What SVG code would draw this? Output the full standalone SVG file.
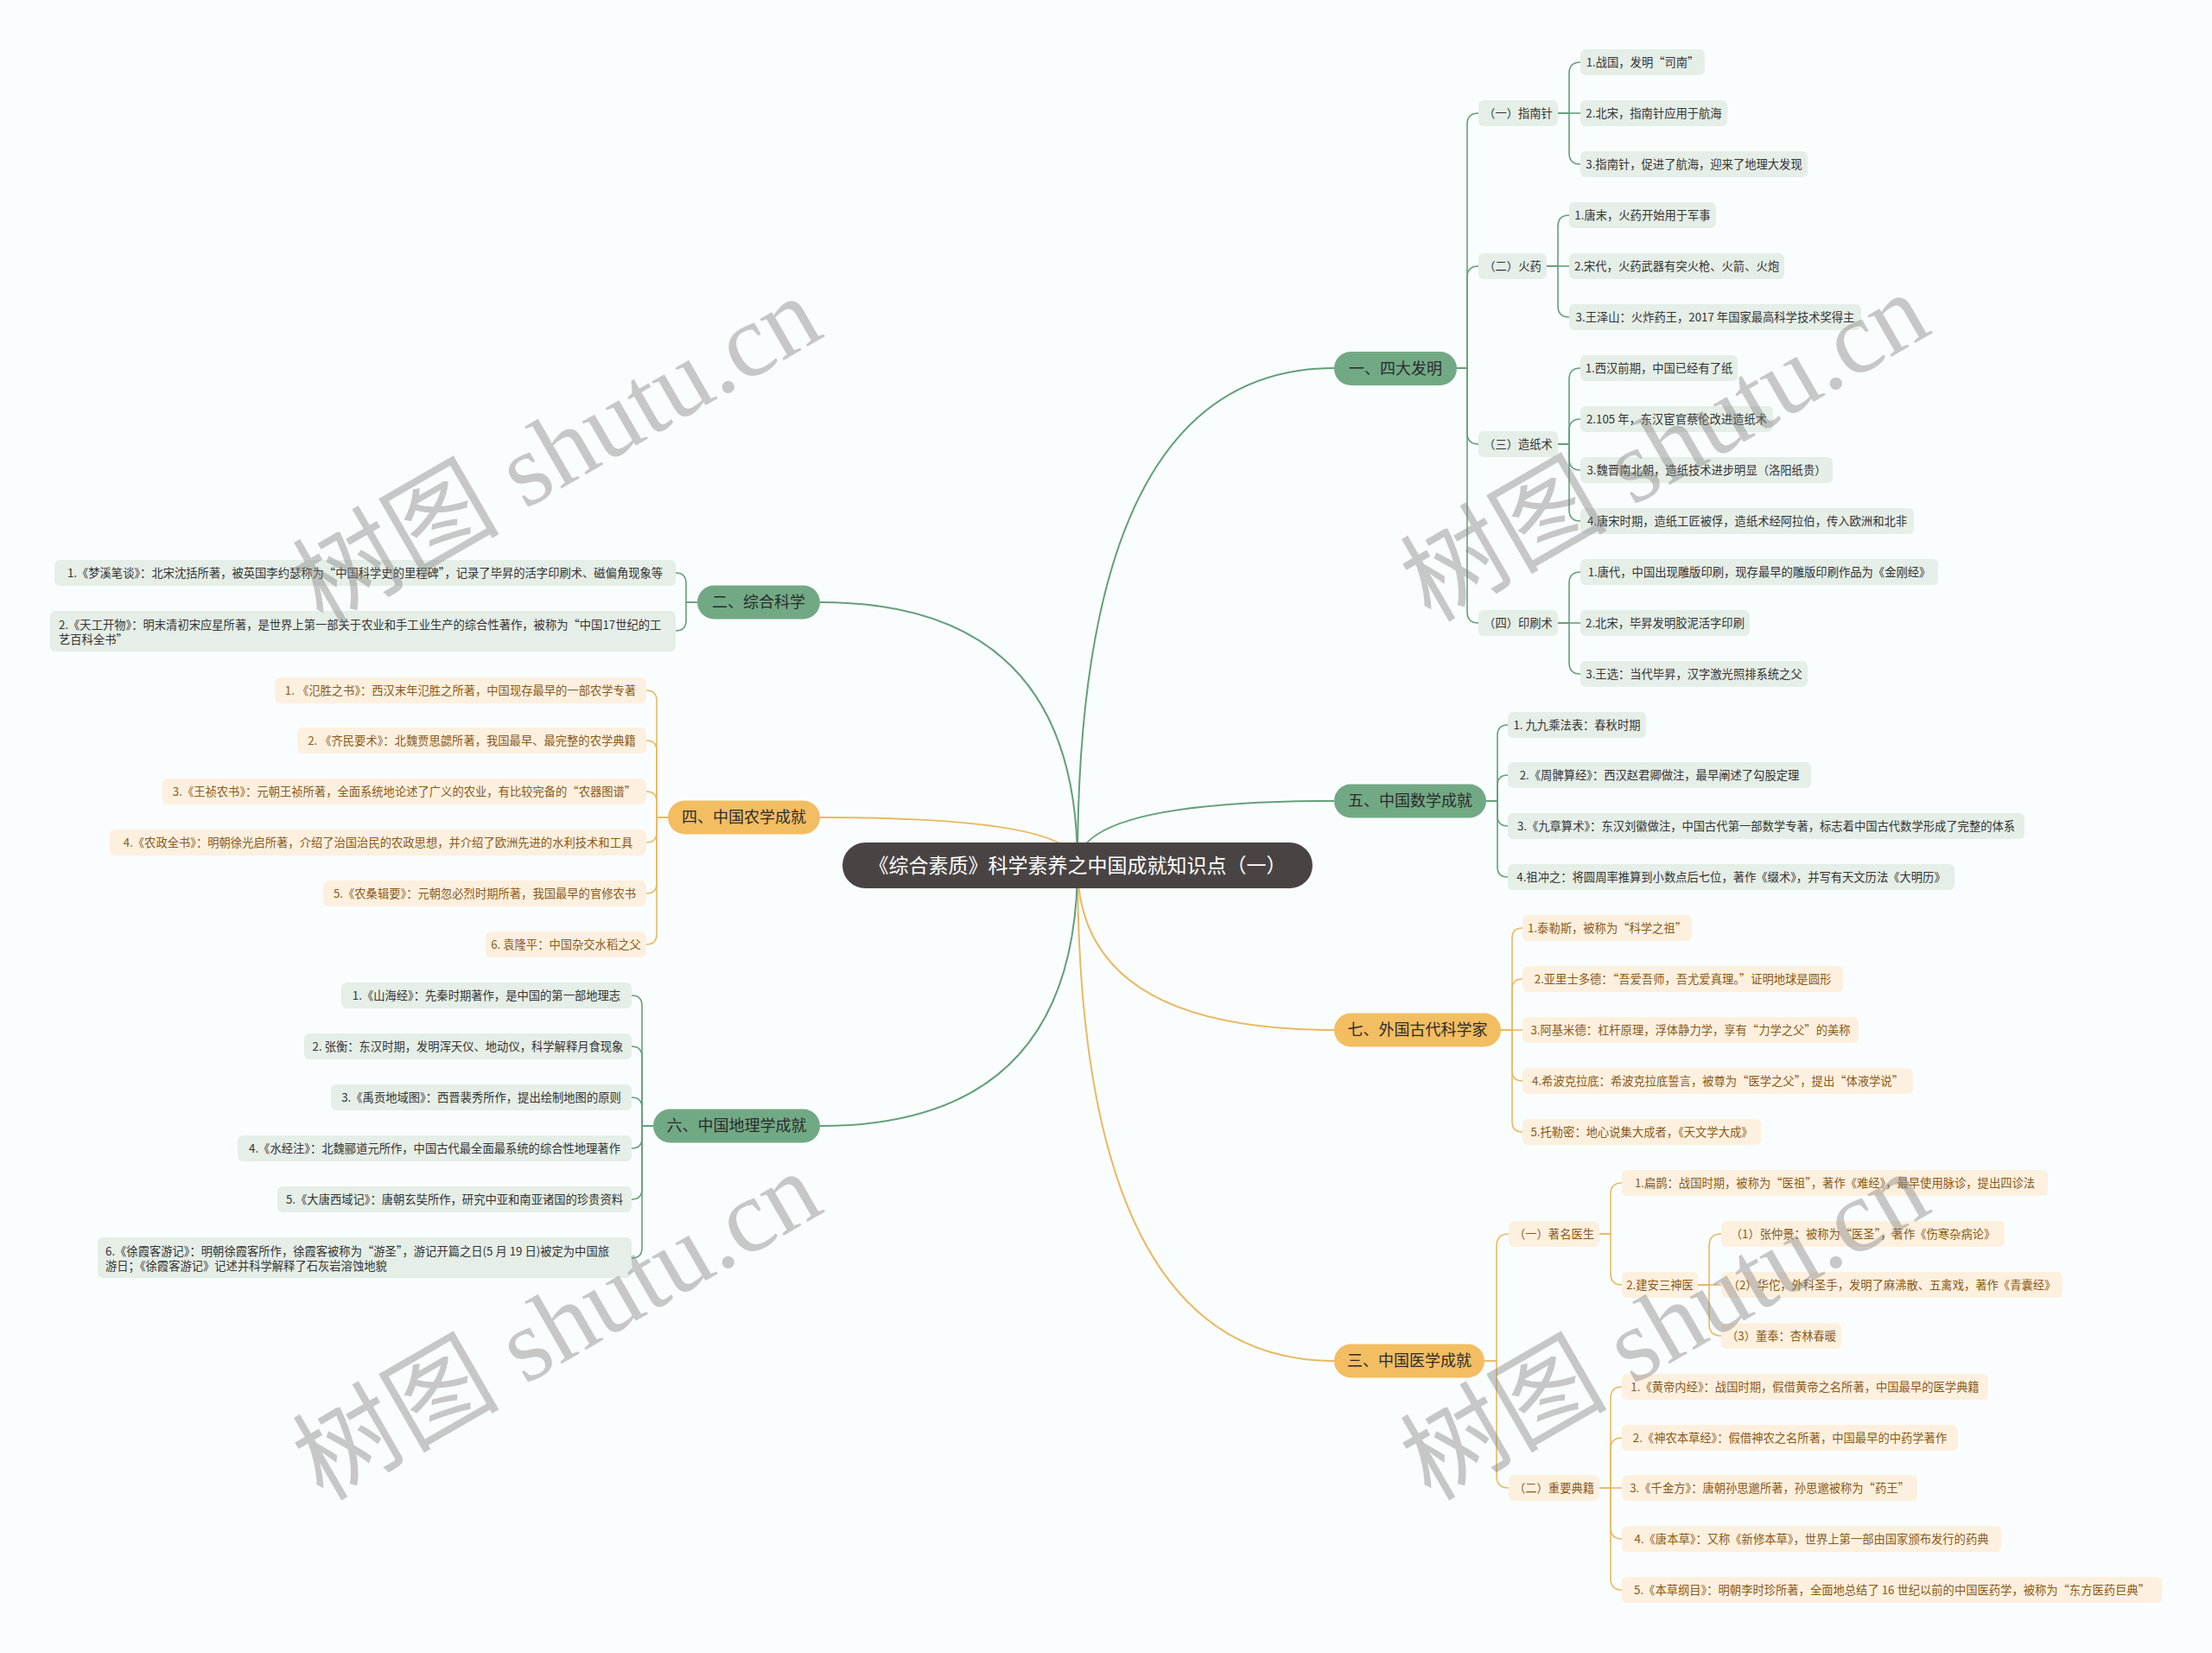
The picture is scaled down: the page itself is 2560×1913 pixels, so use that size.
<svg xmlns="http://www.w3.org/2000/svg" width="2560" height="1913" viewBox="0 0 2560 1913">
<style>
text{font-family:"Noto Sans CJK SC","Liberation Sans",sans-serif}
.bg{fill:#fafdfd}
.cg{fill:none;stroke:#64a07a;stroke-width:2}
.co{fill:none;stroke:#ebb862;stroke-width:2}
.lg{fill:#e5eee7}
.lo{fill:#fdf0df}
.t{font-size:13.3px;text-anchor:middle}
.ts{font-size:13.3px;text-anchor:start}
.tg{fill:#333333}
.to{fill:#8a5a17}
.mg{fill:#72a985}
.mo{fill:#f3bd62}
.mt{font-size:18px;text-anchor:middle;fill:#2b2b2b}
.root{fill:#494443}
.rt{font-size:23px;text-anchor:middle;fill:#ffffff}
.wm{font-family:"Liberation Serif","Noto Sans CJK SC",serif;font-size:120px;fill:#808080;opacity:0.42}
</style>
<rect class="bg" x="0" y="0" width="2560" height="1913"/>
<g id="connectors">
<path class="cg" d="M1247 1001 Q1247 426 1544 426"/>
<path class="cg" d="M1247 1001 Q1247 927 1544 927"/>
<path class="co" d="M1247 1001 Q1247 1192 1544 1192"/>
<path class="co" d="M1247 1001 Q1247 1575 1544 1575"/>
<path class="cg" d="M1247 1001 Q1247 697 949 697"/>
<path class="co" d="M1247 1001 Q1247 946 949 946"/>
<path class="cg" d="M1247 1001 Q1247 1303 949 1303"/>
<g class="cg" style="stroke-width:1.6">
<path d="M1686 426 H1698 V144 Q1698 131 1711 131"/>
<path d="M1686 426 H1698 V321 Q1698 308 1711 308"/>
<path d="M1686 426 H1698 V501 Q1698 514 1711 514"/>
<path d="M1686 426 H1698 V708 Q1698 721 1711 721"/>
<path d="M1803 131 H1816 V85 Q1816 72 1829 72"/>
<path d="M1803 131 H1829"/>
<path d="M1803 131 H1816 V177 Q1816 190 1829 190"/>
<path d="M1790 308 H1803 V262 Q1803 249 1816 249"/>
<path d="M1790 308 H1816"/>
<path d="M1790 308 H1803 V354 Q1803 367 1816 367"/>
<path d="M1803 514 H1816 V439 Q1816 426 1829 426"/>
<path d="M1803 514 H1816 V498 Q1816 485 1829 485"/>
<path d="M1803 514 H1816 V531 Q1816 544 1829 544"/>
<path d="M1803 514 H1816 V590 Q1816 603 1829 603"/>
<path d="M1803 721 H1816 V675 Q1816 662 1829 662"/>
<path d="M1803 721 H1829"/>
<path d="M1803 721 H1816 V767 Q1816 780 1829 780"/>
<path d="M1720 927 H1733 V851 Q1733 839 1745 839"/>
<path d="M1720 927 H1733 V909 Q1733 897 1745 897"/>
<path d="M1720 927 H1733 V944 Q1733 956 1745 956"/>
<path d="M1720 927 H1733 V1003 Q1733 1015 1745 1015"/>
<path d="M807 697 H794 V675 Q794 663 782 663"/>
<path d="M807 697 H794 V718 Q794 730 782 730"/>
<path d="M756 1303 H743 V1164 Q743 1152 731 1152"/>
<path d="M756 1303 H743 V1223 Q743 1211 731 1211"/>
<path d="M756 1303 H743 V1282 Q743 1270 731 1270"/>
<path d="M756 1303 H743 V1317 Q743 1329 731 1329"/>
<path d="M756 1303 H743 V1376 Q743 1388 731 1388"/>
<path d="M756 1303 H743 V1444 Q743 1456 731 1456"/>
</g>
<g class="co" style="stroke-width:1.6">
<path d="M1737 1192 H1750 V1086 Q1750 1074 1762 1074"/>
<path d="M1737 1192 H1750 V1145 Q1750 1133 1762 1133"/>
<path d="M1737 1192 H1762"/>
<path d="M1737 1192 H1750 V1239 Q1750 1251 1762 1251"/>
<path d="M1737 1192 H1750 V1298 Q1750 1310 1762 1310"/>
<path d="M1718 1575 H1732 V1442 Q1732 1428 1746 1428"/>
<path d="M1718 1575 H1732 V1708 Q1732 1722 1746 1722"/>
<path d="M1851 1428 H1864 V1382 Q1864 1369 1877 1369"/>
<path d="M1851 1428 H1864 V1474 Q1864 1487 1877 1487"/>
<path d="M1965 1487 H1978 V1442 Q1978 1428 1992 1428"/>
<path d="M1965 1487 H1992"/>
<path d="M1965 1487 H1978 V1532 Q1978 1546 1992 1546"/>
<path d="M1851 1722 H1864 V1618 Q1864 1605 1877 1605"/>
<path d="M1851 1722 H1864 V1677 Q1864 1664 1877 1664"/>
<path d="M1851 1722 H1877"/>
<path d="M1851 1722 H1864 V1768 Q1864 1781 1877 1781"/>
<path d="M1851 1722 H1864 V1827 Q1864 1840 1877 1840"/>
<path d="M773 946 H760 V811 Q760 799 748 799"/>
<path d="M773 946 H760 V869 Q760 857 748 857"/>
<path d="M773 946 H760 V928 Q760 916 748 916"/>
<path d="M773 946 H760 V963 Q760 975 748 975"/>
<path d="M773 946 H760 V1022 Q760 1034 748 1034"/>
<path d="M773 946 H760 V1081 Q760 1093 748 1093"/>
</g>
</g>

<g id="root">
<rect class="root" x="975" y="975" width="544" height="53" rx="26.5"/>
<text class="rt" x="1247" y="1009.5">《综合素质》科学素养之中国成就知识点（一）</text>
</g>

<g id="m1">
<rect class="mg" x="1544" y="407" width="142" height="39" rx="19.5"/>
<text class="mt" x="1615" y="432.5">一、四大发明</text>
</g>
<g id="m1a"><rect class="lg" x="1711" y="116" width="92" height="30" rx="6"/><text class="t tg" x="1757" y="135.7">（一）指南针</text></g>
<g id="m1a1"><rect class="lg" x="1829" y="57" width="144" height="30" rx="6"/><text class="t tg" x="1901" y="76.7">1.战国，发明“司南”</text></g>
<g id="m1a2"><rect class="lg" x="1829" y="116" width="170" height="30" rx="6"/><text class="t tg" x="1914" y="135.7">2.北宋，指南针应用于航海</text></g>
<g id="m1a3"><rect class="lg" x="1829" y="175" width="263" height="30" rx="6"/><text class="t tg" x="1960.5" y="194.7">3.指南针，促进了航海，迎来了地理大发现</text></g>
<g id="m1b"><rect class="lg" x="1711" y="293" width="79" height="30" rx="6"/><text class="t tg" x="1750.5" y="312.7">（二）火药</text></g>
<g id="m1b1"><rect class="lg" x="1816" y="234" width="170" height="30" rx="6"/><text class="t tg" x="1901" y="253.7">1.唐末，火药开始用于军事</text></g>
<g id="m1b2"><rect class="lg" x="1816" y="293" width="249" height="30" rx="6"/><text class="t tg" x="1940.5" y="312.7">2.宋代，火药武器有突火枪、火箭、火炮</text></g>
<g id="m1b3"><rect class="lg" x="1816" y="352" width="338" height="30" rx="6"/><text class="t tg" x="1985" y="371.7">3.王泽山：火炸药王，2017 年国家最高科学技术奖得主</text></g>
<g id="m1c"><rect class="lg" x="1711" y="499" width="92" height="30" rx="6"/><text class="t tg" x="1757" y="518.7">（三）造纸术</text></g>
<g id="m1c1"><rect class="lg" x="1829" y="411" width="182" height="30" rx="6"/><text class="t tg" x="1920" y="430.7">1.西汉前期，中国已经有了纸</text></g>
<g id="m1c2"><rect class="lg" x="1829" y="470" width="223" height="30" rx="6"/><text class="t tg" x="1940.5" y="489.7">2.105 年，东汉宦官蔡伦改进造纸术</text></g>
<g id="m1c3"><rect class="lg" x="1829" y="529" width="292" height="30" rx="6"/><text class="t tg" x="1975" y="548.7">3.魏晋南北朝，造纸技术进步明显（洛阳纸贵）</text></g>
<g id="m1c4"><rect class="lg" x="1829" y="588" width="386" height="30" rx="6"/><text class="t tg" x="2022" y="607.7">4.唐宋时期，造纸工匠被俘，造纸术经阿拉伯，传入欧洲和北非</text></g>
<g id="m1d"><rect class="lg" x="1711" y="706" width="92" height="30" rx="6"/><text class="t tg" x="1757" y="725.7">（四）印刷术</text></g>
<g id="m1d1"><rect class="lg" x="1829" y="647" width="414" height="30" rx="6"/><text class="t tg" x="2036" y="666.7">1.唐代，中国出现雕版印刷，现存最早的雕版印刷作品为《金刚经》</text></g>
<g id="m1d2"><rect class="lg" x="1829" y="706" width="196" height="30" rx="6"/><text class="t tg" x="1927" y="725.7">2.北宋，毕昇发明胶泥活字印刷</text></g>
<g id="m1d3"><rect class="lg" x="1829" y="765" width="263" height="30" rx="6"/><text class="t tg" x="1960.5" y="784.7">3.王选：当代毕昇，汉字激光照排系统之父</text></g>

<g id="m5">
<rect class="mg" x="1544" y="907.5" width="176" height="39" rx="19.5"/>
<text class="mt" x="1632" y="933">五、中国数学成就</text>
</g>
<g id="m5a"><rect class="lg" x="1745" y="824" width="160" height="30" rx="6"/><text class="t tg" x="1825" y="843.7">1. 九九乘法表：春秋时期</text></g>
<g id="m5b"><rect class="lg" x="1745" y="882" width="351" height="30" rx="6"/><text class="t tg" x="1920.5" y="901.7">2.《周髀算经》：西汉赵君卿做注，最早阐述了勾股定理</text></g>
<g id="m5c"><rect class="lg" x="1745" y="941" width="598" height="30" rx="6"/><text class="t tg" x="2044" y="960.7">3.《九章算术》：东汉刘徽做注，中国古代第一部数学专著，标志着中国古代数学形成了完整的体系</text></g>
<g id="m5d"><rect class="lg" x="1745" y="1000" width="517" height="30" rx="6"/><text class="t tg" x="2003.5" y="1019.7">4.祖冲之：将圆周率推算到小数点后七位，著作《缀术》，并写有天文历法《大明历》</text></g>

<g id="m7">
<rect class="mo" x="1544" y="1172.5" width="193" height="39" rx="19.5"/>
<text class="mt" x="1640.5" y="1198">七、外国古代科学家</text>
</g>
<g id="m7a"><rect class="lo" x="1762" y="1059" width="196" height="30" rx="6"/><text class="t to" x="1860" y="1078.7">1.泰勒斯，被称为“科学之祖”</text></g>
<g id="m7b"><rect class="lo" x="1762" y="1118" width="371" height="30" rx="6"/><text class="t to" x="1947.5" y="1137.7">2.亚里士多德：“吾爱吾师，吾尤爱真理。”证明地球是圆形</text></g>
<g id="m7c"><rect class="lo" x="1762" y="1177" width="389" height="30" rx="6"/><text class="t to" x="1956.5" y="1196.7">3.阿基米德：杠杆原理，浮体静力学，享有“力学之父”的美称</text></g>
<g id="m7d"><rect class="lo" x="1762" y="1236" width="452" height="30" rx="6"/><text class="t to" x="1988" y="1255.7">4.希波克拉底：希波克拉底誓言，被尊为“医学之父”，提出“体液学说”</text></g>
<g id="m7e"><rect class="lo" x="1762" y="1295" width="276" height="30" rx="6"/><text class="t to" x="1900" y="1314.7">5.托勒密：地心说集大成者，《天文学大成》</text></g>

<g id="m3">
<rect class="mo" x="1544" y="1555.5" width="174" height="39" rx="19.5"/>
<text class="mt" x="1631" y="1581">三、中国医学成就</text>
</g>
<g id="m3a"><rect class="lo" x="1746" y="1413" width="105" height="30" rx="6"/><text class="t to" x="1798.5" y="1432.7">（一）著名医生</text></g>
<g id="m3a1"><rect class="lo" x="1877" y="1354" width="493" height="30" rx="6"/><text class="t to" x="2123.5" y="1373.7">1.扁鹊：战国时期，被称为“医祖”，著作《难经》，最早使用脉诊，提出四诊法</text></g>
<g id="m3a2"><rect class="lo" x="1877" y="1472" width="88" height="30" rx="6"/><text class="t to" x="1921" y="1491.7">2.建安三神医</text></g>
<g id="m3a2a"><rect class="lo" x="1992" y="1413" width="328" height="30" rx="6"/><text class="t to" x="2156" y="1432.7">（1）张仲景：被称为“医圣”，著作《伤寒杂病论》</text></g>
<g id="m3a2b"><rect class="lo" x="1992" y="1472" width="395" height="30" rx="6"/><text class="t to" x="2189.5" y="1491.7">（2）华佗，外科圣手，发明了麻沸散、五禽戏，著作《青囊经》</text></g>
<g id="m3a2c"><rect class="lo" x="1992" y="1531" width="139" height="30" rx="6"/><text class="t to" x="2061.5" y="1550.7">（3）董奉：杏林春暖</text></g>
<g id="m3b"><rect class="lo" x="1746" y="1707" width="105" height="30" rx="6"/><text class="t to" x="1798.5" y="1726.7">（二）重要典籍</text></g>
<g id="m3b1"><rect class="lo" x="1877" y="1590" width="424" height="30" rx="6"/><text class="t to" x="2089" y="1609.7">1.《黄帝内经》：战国时期，假借黄帝之名所著，中国最早的医学典籍</text></g>
<g id="m3b2"><rect class="lo" x="1877" y="1649" width="389" height="30" rx="6"/><text class="t to" x="2071.5" y="1668.7">2.《神农本草经》：假借神农之名所著，中国最早的中药学著作</text></g>
<g id="m3b3"><rect class="lo" x="1877" y="1707" width="342" height="30" rx="6"/><text class="t to" x="2048" y="1726.7">3.《千金方》：唐朝孙思邈所著，孙思邈被称为“药王”</text></g>
<g id="m3b4"><rect class="lo" x="1877" y="1766" width="439" height="30" rx="6"/><text class="t to" x="2096.5" y="1785.7">4.《唐本草》：又称《新修本草》，世界上第一部由国家颁布发行的药典</text></g>
<g id="m3b5"><rect class="lo" x="1877" y="1825" width="625" height="30" rx="6"/><text class="t to" x="2189.5" y="1844.7">5.《本草纲目》：明朝李时珍所著，全面地总结了 16 世纪以前的中国医药学，被称为“东方医药巨典”</text></g>

<g id="m2">
<rect class="mg" x="807" y="677.5" width="142" height="39" rx="19.5"/>
<text class="mt" x="878" y="703">二、综合科学</text>
</g>
<g id="m2a"><rect class="lg" x="63" y="648" width="719" height="30" rx="6"/><text class="t tg" x="422.5" y="667.7">1.《梦溪笔谈》：北宋沈括所著，被英国李约瑟称为“中国科学史的里程碑”，记录了毕昇的活字印刷术、磁偏角现象等</text></g>
<g id="m2b"><rect class="lg" x="58" y="707" width="724" height="47" rx="6"/><text class="ts tg" x="68" y="727.5">2.《天工开物》：明末清初宋应星所著，是世界上第一部关于农业和手工业生产的综合性著作，被称为“中国17世纪的工</text><text class="ts tg" x="68" y="744.5">艺百科全书”</text></g>

<g id="m4">
<rect class="mo" x="773" y="926.5" width="176" height="39" rx="19.5"/>
<text class="mt" x="861" y="952">四、中国农学成就</text>
</g>
<g id="m4a"><rect class="lo" x="318" y="784" width="430" height="30" rx="6"/><text class="t to" x="533" y="803.7">1. 《氾胜之书》：西汉末年氾胜之所著，中国现存最早的一部农学专著</text></g>
<g id="m4b"><rect class="lo" x="344" y="842" width="404" height="30" rx="6"/><text class="t to" x="546" y="861.7">2. 《齐民要术》：北魏贾思勰所著，我国最早、最完整的农学典籍</text></g>
<g id="m4c"><rect class="lo" x="188" y="901" width="560" height="30" rx="6"/><text class="t to" x="468" y="920.7">3.《王祯农书》：元朝王祯所著，全面系统地论述了广义的农业，有比较完备的“农器图谱”</text></g>
<g id="m4d"><rect class="lo" x="127" y="960" width="621" height="30" rx="6"/><text class="t to" x="437.5" y="979.7">4.《农政全书》：明朝徐光启所著，介绍了治国治民的农政思想，并介绍了欧洲先进的水利技术和工具</text></g>
<g id="m4e"><rect class="lo" x="374" y="1019" width="374" height="30" rx="6"/><text class="t to" x="561" y="1038.7">5.《农桑辑要》：元朝忽必烈时期所著，我国最早的官修农书</text></g>
<g id="m4f"><rect class="lo" x="562" y="1078" width="186" height="30" rx="6"/><text class="t to" x="655" y="1097.7">6. 袁隆平：中国杂交水稻之父</text></g>

<g id="m6">
<rect class="mg" x="756" y="1283.5" width="193" height="39" rx="19.5"/>
<text class="mt" x="852.5" y="1309">六、中国地理学成就</text>
</g>
<g id="m6a"><rect class="lg" x="395" y="1137" width="336" height="30" rx="6"/><text class="t tg" x="563" y="1156.7">1.《山海经》：先秦时期著作，是中国的第一部地理志</text></g>
<g id="m6b"><rect class="lg" x="352" y="1196" width="379" height="30" rx="6"/><text class="t tg" x="541.5" y="1215.7">2. 张衡：东汉时期，发明浑天仪、地动仪，科学解释月食现象</text></g>
<g id="m6c"><rect class="lg" x="383" y="1255" width="348" height="30" rx="6"/><text class="t tg" x="557" y="1274.7">3.《禹贡地域图》：西晋裴秀所作，提出绘制地图的原则</text></g>
<g id="m6d"><rect class="lg" x="275" y="1314" width="456" height="30" rx="6"/><text class="t tg" x="503" y="1333.7">4.《水经注》：北魏郦道元所作，中国古代最全面最系统的综合性地理著作</text></g>
<g id="m6e"><rect class="lg" x="321" y="1373" width="410" height="30" rx="6"/><text class="t tg" x="526" y="1392.7">5.《大唐西域记》：唐朝玄奘所作，研究中亚和南亚诸国的珍贵资料</text></g>
<g id="m6f"><rect class="lg" x="113" y="1432" width="618" height="47" rx="6"/><text class="ts tg" x="122" y="1452.5">6.《徐霞客游记》：明朝徐霞客所作，徐霞客被称为“游圣”，游记开篇之日(5 月 19 日)被定为中国旅</text><text class="ts tg" x="122" y="1469.5">游日；《徐霞客游记》记述并科学解释了石灰岩溶蚀地貌</text></g>

<g id="watermarks">
<text class="wm" transform="translate(645 522) rotate(-30)" text-anchor="middle" y="40">树图 shutu.cn</text>
<text class="wm" transform="translate(1927 518) rotate(-30)" text-anchor="middle" y="40">树图 shutu.cn</text>
<text class="wm" transform="translate(645 1535) rotate(-30)" text-anchor="middle" y="40">树图 shutu.cn</text>
<text class="wm" transform="translate(1927 1535) rotate(-30)" text-anchor="middle" y="40">树图 shutu.cn</text>
</g>
</svg>
